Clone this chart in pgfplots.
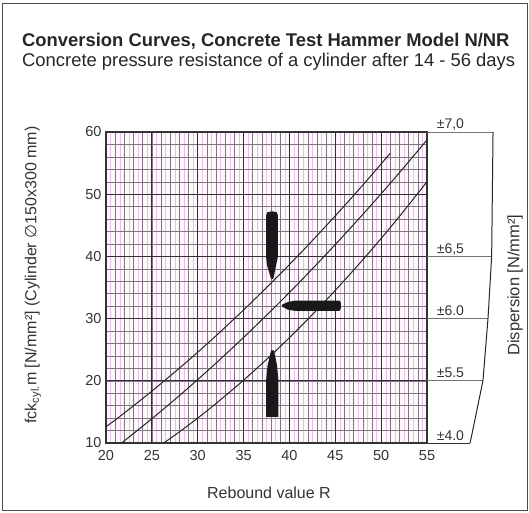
\documentclass[border=0pt]{standalone}
\usepackage{pgfplots}
\pgfplotsset{compat=1.18}
\usepackage{fontspec}
\setmainfont{Liberation Sans}
\newfontfamily\dejavu{DejaVu Sans}
\definecolor{majgrid}{RGB}{50,45,55}
\definecolor{mingrid}{RGB}{125,118,130}
\definecolor{halfgrid}{RGB}{236,190,236}
\definecolor{bgpaper}{RGB}{252,248,252}
\begin{document}
\begin{tikzpicture}
\useasboundingbox (-106pt,-69pt) rectangle (423pt,443pt);
\draw[line width=1pt, black!70] (-103pt,439pt) rectangle (421pt,-67pt);
\node[anchor=base west, font=\fontsize{18.4}{20}\selectfont\bfseries, inner sep=0pt, text=black!85] at (-84pt,396pt) {Conversion Curves, Concrete Test Hammer Model N/NR};
\node[anchor=base west, font=\fontsize{18.4}{20}\selectfont, inner sep=0pt, text=black!85] at (-84pt,376pt) {Concrete pressure resistance of a cylinder after 14 - 56 days};
\begin{axis}[
  at={(0pt,0pt)}, anchor=south west,
  scale only axis, width=321pt, height=311pt,
  xmin=20, xmax=55, ymin=10, ymax=60,
  xtick={20,21,...,55},
  xticklabels={20,,,,,25,,,,,30,,,,,35,,,,,40,,,,,45,,,,,50,,,,,55},
  ytick={10,12,...,60},
  yticklabels={10,,,,,20,,,,,30,,,,,40,,,,,50,,,,,60},
  minor xtick={20.5,21.5,...,54.5},
  extra x ticks={25,30,35,40,45,50},
  extra y ticks={20,30,40,50},
  extra x tick labels={},
  extra y tick labels={},
  extra tick style={grid=major, major grid style={majgrid, line width=1.2pt}},
  grid=both,
  major grid style={mingrid, line width=0.5pt},
  minor grid style={halfgrid, line width=0.4pt},
  major tick length=0pt, minor tick length=0pt,
  axis line style={black!80, line width=1.3pt},
  axis background/.style={fill=bgpaper},
  ticklabel style={font=\fontsize{14.5}{14.5}\selectfont, text=black!80},
  xticklabel style={yshift=-4pt},
  yticklabel style={xshift=-1pt},
  /pgf/number format/assume math mode=true,
  clip=false,
]
% conversion curves
\addplot[black!85, line width=1pt, smooth] coordinates {
 (20,12.6) (22,14.83) (25,18.34) (28,22.03) (30,24.6) (32,27.25) (35,31.38)
 (38,35.71) (40,38.69) (42,41.76) (45,46.52) (48,51.46) (51,56.6)};
\addplot[black!85, line width=1pt, smooth] coordinates {
 (21.7,10.0) (22,10.35) (25,13.9) (28,17.62) (30,20.2) (32,22.85) (35,26.97)
 (38,31.25) (40,34.2) (42,37.23) (45,41.91) (48,46.75) (50,50.07) (52,53.47) (55,58.72)};
\addplot[black!85, line width=1pt, smooth] coordinates {
 (26.3,10.0) (28,11.79) (30,14.01) (32,16.36) (35,20.1) (38,24.11) (40,26.94)
 (42,29.89) (45,34.54) (48,39.46) (50,42.89) (52,46.44) (55,52.0)};
% pointers
\addplot[draw=none, fill=black!90] coordinates {
 (38.0,36.4) (37.55,38.6) (37.45,40) (37.45,46.6) (37.6,47.1) (38.1,47.25)
 (38.6,47.1) (38.75,46.6) (38.75,40) (38.55,38.6) (38.25,36.4)} --cycle;
\addplot[draw=none, fill=black!90] coordinates {
 (37.45,14.2) (38.8,14.2) (38.8,20) (38.65,22.5) (38.3,24.9) (38.0,24.9)
 (37.6,22.3) (37.45,20)} --cycle;
\addplot[draw=none, fill=black!90] coordinates {
 (45.45,31.25) (45.6,31.6) (45.6,32.55) (45.45,32.9) (40.6,32.9) (39.8,32.65)
 (39.2,32.25) (39.2,31.95) (39.8,31.45) (40.6,31.25)} --cycle;
% dispersion panel
\addplot[black!55, line width=0.7pt] coordinates {(55,60) (62.2,60)};
\addplot[black!55, line width=0.7pt] coordinates {(55,40) (62.05,40)};
\addplot[black!55, line width=0.7pt] coordinates {(55,30) (61.65,30)};
\addplot[black!55, line width=0.7pt] coordinates {(55,20) (61.1,20)};
\addplot[black!80, line width=0.9pt] coordinates {(55,10) (59.7,10)};
\addplot[black!85, line width=1pt] coordinates {(62.2,60) (62.05,40) (61.65,30) (61.1,20) (59.7,10)};
\node[anchor=base west, inner sep=0pt, yshift=4pt, font=\fontsize{14}{14}\selectfont, text=black!80] at (axis cs:56.05,60) {±7,0};
\node[anchor=base west, inner sep=0pt, yshift=3pt, font=\fontsize{14}{14}\selectfont, text=black!80] at (axis cs:56.05,40) {±6,5};
\node[anchor=base west, inner sep=0pt, yshift=3pt, font=\fontsize{14}{14}\selectfont, text=black!80] at (axis cs:56.05,30) {±6.0};
\node[anchor=base west, inner sep=0pt, yshift=3pt, font=\fontsize{14}{14}\selectfont, text=black!80] at (axis cs:56.05,20) {±5.5};
\node[anchor=base west, inner sep=0pt, yshift=3pt, font=\fontsize{14}{14}\selectfont, text=black!80] at (axis cs:56.05,10) {±4.0};
\end{axis}
\node[font=\fontsize{16}{16}\selectfont, text=black!80, anchor=base] at (163pt,-55pt) {Rebound value R};
\node[font=\fontsize{16}{16}\selectfont, text=black!80, rotate=90] at (-73pt,168pt) {fck\textsubscript{cyl.}m [N/mm²] (Cylinder {\dejavu ∅}150x300 mm)};
\node[font=\fontsize{16.5}{16.5}\selectfont, text=black!80, rotate=90] at (409pt,158pt) {Dispersion [N/mm²]};
\end{tikzpicture}
\end{document}
